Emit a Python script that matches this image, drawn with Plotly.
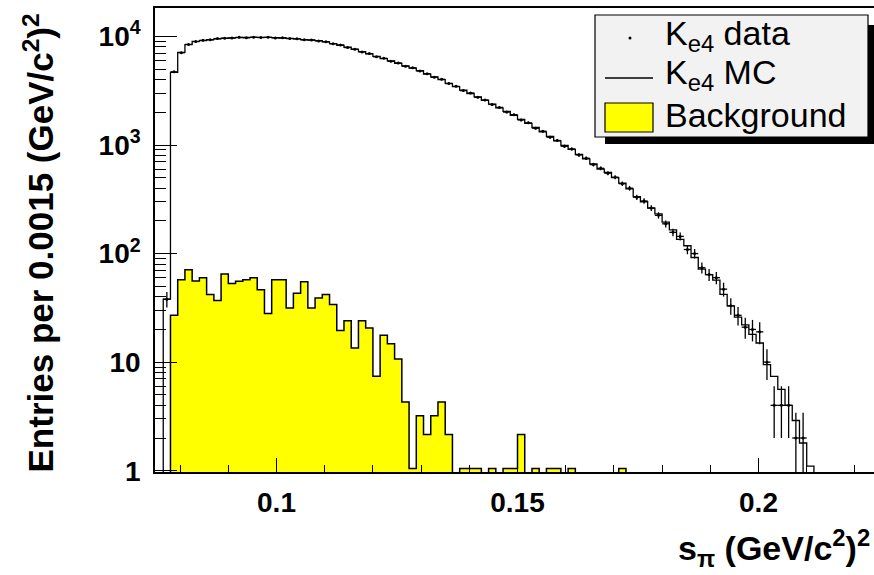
import numpy as np
import plotly.graph_objects as go

# ---------------- data ----------------
BIN_WIDTH = 0.0015
FIRST_EDGE = 0.0765      # left edge of first Ke4 bin
BKG_FIRST_EDGE = 0.078   # left edge of first background bin

mc_counts = [38, 4670, 7130, 8390, 9000, 9150, 9350, 9500, 9600, 9700, 9750, 9780, 9800,
             9800, 9790, 9760, 9680, 9600, 9480, 9350, 9250, 9150, 8900, 8600, 8300, 7950,
             7600, 7250, 6900, 6550, 6250, 5950, 5650, 5350, 5100, 4850, 4500, 4250, 4000,
             3700, 3450, 3200, 2980, 2780, 2580, 2380, 2200, 2040, 1880, 1720, 1580, 1450,
             1320, 1200, 1090, 990, 910, 820, 745, 670, 600, 560, 500, 445, 395, 335, 300,
             262, 232, 195, 165, 135, 118, 92, 72, 64, 57, 42, 33, 26, 22, 18, 15, 9.5,
             7.4, 5.6, 4.0, 2.9, 1.8, 1.1]

data_counts = [38, 4720, 7080, 8450, 8960, 9210, 9300, 9560, 9640, 9660, 9810, 9730, 9850,
               9770, 9820, 9700, 9720, 9550, 9510, 9300, 9280, 9100, 8940, 8560, 8340, 7900,
               7640, 7200, 6950, 6500, 6290, 5900, 5700, 5310, 5140, 4800, 4540, 4210, 4030,
               3680, 3470, 3170, 3010, 2750, 2600, 2360, 2220, 2010, 1900, 1700, 1600, 1430,
               1340, 1180, 1100, 975, 920, 810, 755, 660, 610, 550, 505, 440, 400, 330, 305,
               263, 225, 188, 157, 144, 109, 100, 74, 64, 60, 47, 33, 27, 21, 20, 19, 10,
               4, 4, 4, 2, 2, 0]

bkg_counts = [27, 57.5, 71, 56, 60, 42, 37, 65, 53, 55.5, 57.5, 60, 46.5, 28, 57.5, 57.5,
              31.5, 43, 55, 31.5, 39, 42, 34, 19.6, 24, 13.5, 24, 20.6, 7.4, 17.7, 14.8,
              10.7, 4.3, 1.05, 3.2, 2.15, 3.2, 4.3, 2.15, 0, 1.05, 1.05, 1.05, 0, 1.05, 0,
              1.05, 1.05, 2.15, 0, 1.05, 0, 1.05, 1.05, 0, 1.05, 0, 0, 0, 0, 0, 0, 1.05]

x_tick_vals = [0.1, 0.15, 0.2]
x_tick_text = ["0.1", "0.15", "0.2"]
y_tick_vals = [1, 10, 100, 1000, 10000]
y_tick_text = ["1", "10", "10<sup>2</sup>", "10<sup>3</sup>", "10<sup>4</sup>"]

legend_labels = ["K<sub>e4</sub> data", "K<sub>e4</sub> MC", "Background"]
y_title = "Entries per 0.0015 (GeV/c<sup>2</sup>)<sup>2</sup>"
x_title = "s<sub>π</sub> (GeV/c<sup>2</sup>)<sup>2</sup>"

# ---------------- layout geometry ----------------
W, H = 874, 575
L, R, T, B = 155, 874, 8, 472
X_RANGE = [0.07479, 0.22396]
Y_RANGE = [-0.012, 4.262]
FLOOR = 0.3   # below the axis floor (drawn clipped)
FONT = "Liberation Sans, Arial, Helvetica, sans-serif"


def px(x):
    return (x - L) / (R - L)


def py(y):
    return (B - y) / (B - T)


def step_xy(first_edge, counts):
    n = len(counts)
    edges = first_edge + BIN_WIDTH * np.arange(n + 1)
    vals = np.array(counts, dtype=float)
    vals = np.where(vals > 0, vals, FLOOR)
    xs = np.concatenate([[edges[0]], edges, [edges[-1]]])
    ys = np.concatenate([[FLOOR], vals, [vals[-1]], [FLOOR]])
    return xs, ys


fig = go.Figure()

# background (yellow filled step histogram)
bx, by = step_xy(BKG_FIRST_EDGE, bkg_counts)
fig.add_trace(go.Scatter(x=bx, y=by, mode="lines", line=dict(shape="hv", color="black", width=1.5),
                         fill="toself", fillcolor="#ffff00", showlegend=False, hoverinfo="skip"))

# MC step histogram
mx, my = step_xy(FIRST_EDGE, mc_counts)
fig.add_trace(go.Scatter(x=mx, y=my, mode="lines", line=dict(shape="hv", color="black", width=1.3),
                         showlegend=False, hoverinfo="skip"))

# data points with error bars
d = np.array(data_counts, dtype=float)
centers = FIRST_EDGE + BIN_WIDTH * (np.arange(len(d)) + 0.5)
mask = d > 0
fig.add_trace(go.Scatter(
    x=centers[mask], y=d[mask], mode="markers",
    marker=dict(size=3, color="black"),
    error_x=dict(type="constant", value=BIN_WIDTH / 2, width=0, thickness=1.3, color="black"),
    error_y=dict(type="data", array=np.sqrt(d[mask]), width=0, thickness=1.3, color="black"),
    showlegend=False, hoverinfo="skip"))

# minor tick positions
y_minor = [m * 10 ** e for e in range(0, 5) for m in range(2, 10)]
x_minor = [round(0.08 + 0.01 * i, 3) for i in range(15)]
x_minor = [v for v in x_minor if v not in x_tick_vals]

fig.update_xaxes(
    range=X_RANGE, showgrid=False, zeroline=False,
    showline=True, linecolor="black", linewidth=1.5, mirror=True,
    tickmode="array", tickvals=x_tick_vals, ticktext=x_tick_text,
    ticks="inside", ticklen=14, tickwidth=1.2, tickcolor="black",
    minor=dict(tickmode="array", tickvals=x_minor, ticks="inside", ticklen=7, tickwidth=1.2,
               tickcolor="black", showgrid=False),
    tickfont=dict(family=FONT, size=28, color="black", weight="bold"),
    ticklabelstandoff=5,
)
fig.update_yaxes(
    type="log", range=Y_RANGE, showgrid=False, zeroline=False,
    showline=True, linecolor="black", linewidth=1.5, mirror=False,
    tickmode="array", tickvals=y_tick_vals, ticktext=y_tick_text,
    ticks="inside", ticklen=22, tickwidth=1.2, tickcolor="black",
    minor=dict(tickmode="array", tickvals=y_minor, ticks="inside", ticklen=11, tickwidth=1.2,
               tickcolor="black", showgrid=False),
    tickfont=dict(family=FONT, size=28, color="black", weight="bold"),
    ticklabelstandoff=7,
)

shapes = []
annotations = []

# legend (shadow, box, symbols)
LX0, LX1, LY0, LY1 = 595, 868, 15, 137
shapes.append(dict(type="rect", xref="paper", yref="paper", x0=px(LX0 + 10), x1=px(LX1 + 20),
                   y0=py(LY0 + 10), y1=py(LY1 + 7), fillcolor="black", line=dict(width=0), layer="above"))
shapes.append(dict(type="rect", xref="paper", yref="paper", x0=px(LX0), x1=px(LX1),
                   y0=py(LY0), y1=py(LY1), fillcolor="#f2f2f2", line=dict(color="black", width=1.2),
                   layer="above"))
# dot
shapes.append(dict(type="circle", xref="paper", yref="paper", x0=px(628.5), x1=px(631.5),
                   y0=py(36.5), y1=py(39.5), fillcolor="black", line=dict(width=0), layer="above"))
# line
shapes.append(dict(type="line", xref="paper", yref="paper", x0=px(605), x1=px(653),
                   y0=py(78), y1=py(78), line=dict(color="black", width=1.3), layer="above"))
# yellow box
shapes.append(dict(type="rect", xref="paper", yref="paper", x0=px(605), x1=px(653),
                   y0=py(103), y1=py(132), fillcolor="#ffff00", line=dict(color="black", width=1.2),
                   layer="above"))

row_y = [35, 75, 115]
for lab, ry in zip(legend_labels, row_y):
    annotations.append(dict(text=lab, xref="paper", yref="paper", x=px(663), y=py(ry),
                            xanchor="left", yanchor="middle", showarrow=False,
                            font=dict(family=FONT, size=34, color="black")))

# axis titles
annotations.append(dict(text=y_title, xref="paper", yref="paper", x=px(39), y=py(12),
                        xanchor="center", yanchor="top", textangle=-90, showarrow=False,
                        font=dict(family=FONT, size=35, color="black", weight="bold")))
annotations.append(dict(text=x_title, xref="paper", yref="paper", x=px(872), y=py(548),
                        xanchor="right", yanchor="middle", showarrow=False,
                        font=dict(family=FONT, size=34, color="black", weight="bold")))

fig.update_layout(
    width=W, height=H,
    margin=dict(l=L, r=W - R, t=T, b=H - B, pad=0),
    paper_bgcolor="white", plot_bgcolor="white",
    shapes=shapes, annotations=annotations, showlegend=False,
)

fig.write_html("out.html")
